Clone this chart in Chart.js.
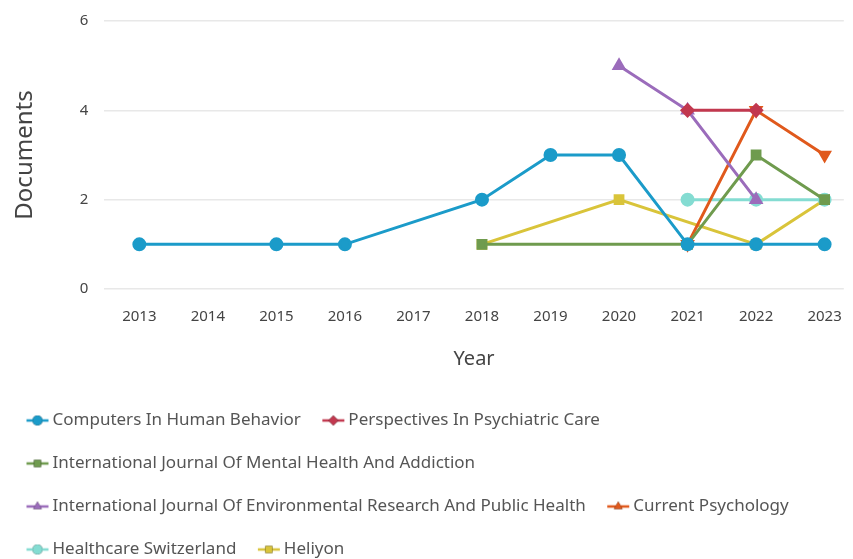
<!DOCTYPE html>
<html>
<head>
<meta charset="utf-8">
<script src="https://cdn.jsdelivr.net/npm/chart.js@4.4.1/dist/chart.umd.min.js"></script>
<style>
  html, body { margin: 0; padding: 0; background: #fff; }
  #wrap { width: 853px; height: 559px; }
</style>
</head>
<body>
<div id="wrap"><canvas id="chart"></canvas></div>
<script>
const years = [2013, 2014, 2015, 2016, 2017, 2018, 2019, 2020, 2021, 2022, 2023];
const yTicks = [0, 2, 4, 6];

//values per journal, null where no documents were shown
const computers     = [1, null, 1, 1, null, 2, 3, 3, 1, 1, 1];
const perspectives  = [null, null, null, null, null, null, null, null, 4, 4, null];
const mentalHealth  = [null, null, null, null, null, 1, null, null, 1, 3, 2];
const environmental = [null, null, null, null, null, null, null, 5, 4, 2, null];
const currentPsych  = [null, null, null, null, null, null, null, null, 1, 4, 3];
const healthcareCH  = [null, null, null, null, null, null, null, null, 2, 2, 2];
const heliyon       = [null, null, null, null, null, 1, null, 2, null, 1, 2];

const series = [
  { label: "Computers In Human Behavior", values: computers, color: "#1b9bc9", point: "circle", rot: 0 },
  { label: "Perspectives In Psychiatric Care", values: perspectives, color: "#c2384f", point: "rectRot", rot: 0 },
  { label: "International Journal Of Mental Health And Addiction", values: mentalHealth, color: "#6f9b4e", point: "rect", rot: 0 },
  { label: "International Journal Of Environmental Research And Public Health", values: environmental, color: "#9b6cbb", point: "triangle", rot: 0 },
  { label: "Current Psychology", values: currentPsych, color: "#e0591c", point: "triangle", rot: 180 },
  { label: "Healthcare Switzerland", values: healthcareCH, color: "#84dcd2", point: "circle", rot: 0 },
  { label: "Heliyon", values: heliyon, color: "#d9c43a", point: "rect", rot: 0 },
];

const toPoints = (values) =>
  years.map((y, i) => ({ x: y, y: values[i] })).filter((p) => p.y !== null);

//small legend icon: a short line with the marker on it
const makeIcon = (s) => {
  const c = document.createElement("canvas");
  c.width = 24;
  c.height = 12;
  const ctx = c.getContext("2d");
  ctx.strokeStyle = s.color;
  ctx.lineWidth = 2.5;
  ctx.beginPath();
  ctx.moveTo(1, 6);
  ctx.lineTo(23, 6);
  ctx.stroke();
  Chart.helpers.drawPoint(ctx, { pointStyle: s.point, rotation: s.rot, radius: 5, borderWidth: 0 }, 12, 6);
  ctx.fillStyle = s.color;
  ctx.fill();
  return c;
};

const datasets = series.map((s) => ({
  label: s.label,
  data: toPoints(s.values),
  borderColor: s.color,
  backgroundColor: s.color,
  borderWidth: 3,
  pointStyle: s.point,
  pointRotation: s.rot,
  pointRadius: 5.5,
  pointHoverRadius: 5.5,
  tension: 0,
  icon: makeIcon(s),
}));

//nudge the legend block to where the original puts it
const legendShift = {
  id: "legendShift",
  afterLayout(chart) {
    const lg = chart.legend;
    lg.left += 4;
    lg.right += 4;
    lg.top += 9;
    lg.bottom += 9;
  },
};

Chart.defaults.font.family = "'Noto Sans', sans-serif";
Chart.defaults.color = "#555";

new Chart(document.getElementById("chart"), {
  type: "line",
  data: { datasets: datasets },
  plugins: [legendShift],
  options: {
    responsive: true,
    maintainAspectRatio: false,
    animation: false,
    layout: { padding: { left: 1, right: 8, top: 2, bottom: 0 } },
    scales: {
      x: {
        type: "linear",
        min: 2012.49,
        max: 2023.28,
        afterBuildTicks: (axis) => {
          axis.ticks = years.map((v) => ({ value: v }));
        },
        grid: { display: false },
        border: { display: false },
        ticks: {
          callback: (v) => String(v),
          font: { size: 15 },
          color: "#444",
          padding: 11,
          maxRotation: 0,
          autoSkip: false,
        },
        title: { display: true, text: "Year", font: { size: 20 }, color: "#444", padding: { top: 10, bottom: 6 } },
      },
      y: {
        min: 0,
        max: 6,
        afterBuildTicks: (axis) => {
          axis.ticks = yTicks.map((v) => ({ value: v }));
        },
        afterFit: (axis) => {
          axis.paddingTop = 21;
        },
        grid: { color: "#e8e8e8", lineWidth: 1.5, drawTicks: false },
        border: { display: false },
        ticks: { font: { size: 15 }, color: "#444", padding: 16 },
        title: { display: true, text: "Documents", font: { size: 24 }, color: "#444", padding: { top: 10, bottom: 24 } },
      },
    },
    plugins: {
      tooltip: false,
      legend: {
        position: "bottom",
        align: "start",
        labels: {
          usePointStyle: true,
          pointStyleWidth: 13,
          font: { size: 17 },
          color: "#555",
          padding: 26,
          generateLabels: (chart) => {
            const items = Chart.defaults.plugins.legend.labels.generateLabels(chart);
            items.forEach((it) => {
              it.pointStyle = chart.data.datasets[it.datasetIndex].icon;
            });
            return items;
          },
        },
      },
    },
  },
});
</script>
</body>
</html>
